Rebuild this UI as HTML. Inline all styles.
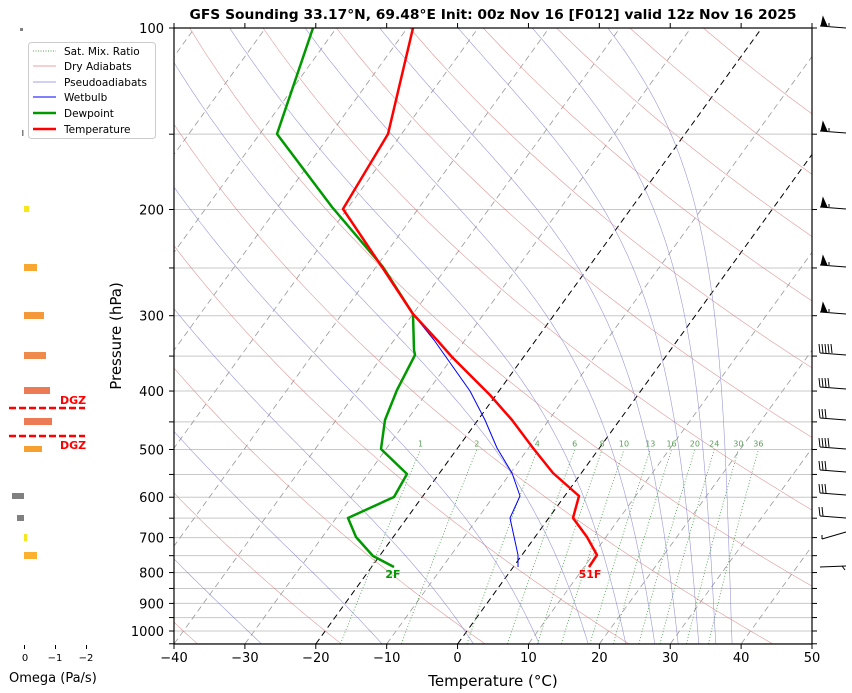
<!DOCTYPE html>
<html><head><meta charset="utf-8">
<style>
html,body{margin:0;padding:0;background:#fff;}
svg{display:block;font-family:"DejaVu Sans","Liberation Sans",sans-serif;}
</style></head>
<body>
<svg id="s" width="852" height="693" viewBox="0 0 852 693" xmlns="http://www.w3.org/2000/svg">
<defs><clipPath id="c"><rect x="174" y="28" width="638" height="616"/></clipPath></defs>
<rect width="852" height="693" fill="#fff"/>
<g id="grid" clip-path="url(#c)"></g>
<g id="bg" clip-path="url(#c)"></g>
<g id="mr" ></g>
<g clip-path="url(#c)" fill="none" stroke-linejoin="round">
<polyline stroke="#0000ff" stroke-width="1" points="413,314 434,340 470,391 485,420 497,448 512,473 520,496 510,518 518,555 518,567"/>
<polyline stroke="#009900" stroke-width="2.5" points="313,28 277,134 332,207 383,267 413,314 414,350 415,355 397,390 385,420 381,449 407,474 394,497 348,518 356,537 373,556 394,567"/>
<polyline stroke="#ff0000" stroke-width="2.5" points="413,28 388,134 343,209 382,267 413,314 437,340 452,357 490,395 512,420 533,448 553,473 579,496 573,518 587,537 597,555 589,567"/>
</g>
<text x="393" y="578" font-size="11" font-weight="bold" fill="#009900" text-anchor="middle">2F</text>
<text x="590" y="578" font-size="11" font-weight="bold" fill="#ff0000" text-anchor="middle">51F</text>
<rect x="174" y="28" width="638" height="616" fill="none" stroke="#000" stroke-width="1.2"/>
<g id="ticks" stroke="#000" stroke-width="1"></g>
<g id="labels" font-size="13" fill="#000"></g>
<text x="493" y="19" font-size="13" font-weight="bold" text-anchor="middle" textLength="607" lengthAdjust="spacingAndGlyphs">GFS Sounding 33.17°N, 69.48°E Init: 00z Nov 16 [F012] valid 12z Nov 16 2025</text>
<text x="493" y="686" font-size="15" text-anchor="middle">Temperature (°C)</text>
<text transform="translate(121,336) rotate(-90)" font-size="15" text-anchor="middle">Pressure (hPa)</text>
<!-- legend -->
<rect x="28.5" y="42.5" width="127" height="96" rx="3" fill="#fff" stroke="#ccc"/>
<g font-size="10.5" fill="#000">
<line x1="33" y1="51" x2="56" y2="51" stroke="#5a9e5a" stroke-dasharray="1,1.5"/><text x="64" y="55">Sat. Mix. Ratio</text>
<line x1="33" y1="66" x2="56" y2="66" stroke="#e8a0a0"/><text x="64" y="70">Dry Adiabats</text>
<line x1="33" y1="82" x2="56" y2="82" stroke="#a0a0e8"/><text x="64" y="86">Pseudoadiabats</text>
<line x1="33" y1="97" x2="56" y2="97" stroke="#0000ff"/><text x="64" y="101">Wetbulb</text>
<line x1="33" y1="113" x2="56" y2="113" stroke="#009900" stroke-width="2.5"/><text x="64" y="117">Dewpoint</text>
<line x1="33" y1="129" x2="56" y2="129" stroke="#ff0000" stroke-width="2.5"/><text x="64" y="133">Temperature</text>
</g>
<!-- omega -->
<g>
<rect x="20" y="28" width="3" height="3" fill="#808080"/>
<rect x="22" y="130" width="1.5" height="6" fill="#808080"/>
<rect x="24" y="206" width="5" height="6" fill="#f5e61e"/>
<rect x="24" y="264" width="13" height="7" fill="#f8a830"/>
<rect x="24" y="312" width="20" height="7" fill="#f5983a"/>
<rect x="24" y="352" width="22" height="7" fill="#f08a4b"/>
<rect x="24" y="387" width="26" height="7" fill="#ec7a55"/>
<rect x="24" y="418" width="28" height="7" fill="#ec7a55"/>
<rect x="24" y="446" width="18" height="6" fill="#f5a030"/>
<rect x="12" y="493" width="12" height="6" fill="#808080"/>
<rect x="17" y="515" width="7" height="6" fill="#808080"/>
<rect x="24" y="534" width="3" height="7" fill="#f5e61e"/>
<rect x="24" y="552" width="13" height="7" fill="#fbb030"/>
<line x1="9" y1="408" x2="85" y2="408" stroke="#ff0000" stroke-width="2.5" stroke-dasharray="7,3"/>
<line x1="9" y1="436" x2="85" y2="436" stroke="#ff0000" stroke-width="2.5" stroke-dasharray="7,3"/>
<text x="60" y="404" font-size="11" font-weight="bold" fill="#ff0000">DGZ</text>
<text x="60" y="449" font-size="11" font-weight="bold" fill="#ff0000">DGZ</text>
<line x1="24.5" y1="645" x2="24.5" y2="649" stroke="#000"/>
<line x1="55.5" y1="645" x2="55.5" y2="649" stroke="#000"/>
<line x1="86.5" y1="645" x2="86.5" y2="649" stroke="#000"/>
<text x="25" y="661" font-size="10" text-anchor="middle">0</text>
<text x="55" y="661" font-size="10" text-anchor="middle">−1</text>
<text x="86" y="661" font-size="10" text-anchor="middle">−2</text>
<text x="9" y="682" font-size="13">Omega (Pa/s)</text>
</g>
<g id="barbs" stroke="#000" stroke-width="1" fill="#000"></g>
</svg>
<script>
(function(){
var NS="http://www.w3.org/2000/svg";
function yP(p){return 28+603*Math.log10(p/100);}
function xT(T,p){return 174+(T+40)*7.089+0.724*(644-yP(p));}
function el(par,tag,at,txt){var e=document.createElementNS(NS,tag);for(var k in at)e.setAttribute(k,at[k]);if(txt!==undefined)e.textContent=txt;document.getElementById(par).appendChild(e);return e;}
function pl(par,pts,st){var s=pts.map(function(a){return a[0].toFixed(1)+","+a[1].toFixed(1);}).join(" ");st.points=s;st.fill="none";el(par,"polyline",st);}
for(var p=100;p<=1050;p+=50){var y=yP(p);el("grid","line",{x1:174,x2:812,y1:y,y2:y,stroke:"#c8c8c8","stroke-width":1});
 el("ticks","line",{x1:812,x2:817,y1:y,y2:y});
 el("ticks","line",{x1:169,x2:174,y1:y,y2:y});
 if(p%100==0 && p<=1000) el("labels","text",{x:164,y:y+5,"text-anchor":"end"},String(p));}
for(var T=-40;T<=50;T+=10){var x=174+(T+40)*7.089;el("ticks","line",{x1:x,x2:x,y1:644,y2:649});
 el("labels","text",{x:x,y:662,"text-anchor":"middle"},(T<0?"−":"")+Math.abs(T));
 el("ticks","line",{x1:x,x2:x,y1:23,y2:28});}
for(var T=-130;T<=50;T+=10){var blk=(T==0||T==-20);
 el("bg","line",{x1:xT(T,1050),y1:yP(1050),x2:xT(T,100),y2:yP(100),stroke:blk?"#000":"#999","stroke-width":blk?1:0.8,"stroke-dasharray":"6,4"});}
for(var t0=-40;t0<=200;t0+=20){var th=t0+273.15,pts=[];
 for(var p=1050;p>=99;p-=10){pts.push([xT(th*Math.pow(p/1000,0.286)-273.15,p),yP(p)]);}
 pl("bg",pts,{stroke:"#d98080","stroke-width":0.6,"stroke-opacity":0.8});}
function es(Tc){return 6.112*Math.exp(17.67*Tc/(Tc+243.5));}
function dT(T,p){var Tc=T-273.15,e=es(Tc),rs=0.622*e/Math.max(p-e,1);var Rd=287,Cp=1005,Lv=2.5e6;
 return (Rd*T+Lv*rs)/(Cp+Lv*Lv*rs*0.622/(Rd*T*T));}
var starts=[-61.7,-44.7,-27.7,-10.7,2.2,11.5,18.4,23.7,27.8,31.1,34.0,36.4,38.7];
starts.forEach(function(t){var T=t+273.15,p=1050,pts=[[xT(t,p),yP(p)]];
 var n=200,dl=Math.log(100/1050)/n;
 for(var i=0;i<n;i++){var lp=Math.log(p);
  var k1=dT(T,p),k2=dT(T+0.5*dl*k1,Math.exp(lp+0.5*dl)),k3=dT(T+0.5*dl*k2,Math.exp(lp+0.5*dl)),k4=dT(T+dl*k3,Math.exp(lp+dl));
  T+=dl*(k1+2*k2+2*k3+k4)/6;p=Math.exp(lp+dl);pts.push([xT(T-273.15,p),yP(p)]);}
 pl("bg",pts,{stroke:"#8080d0","stroke-width":0.6,"stroke-opacity":0.8});});
[1,2,4,6,8,10,13,16,20,24,30,36].forEach(function(w){var ww=w/1000,pts=[];
 for(var p=1050;p>=500;p-=25){var e=ww*p/(0.622+ww),l=Math.log(e/6.112),Td=243.5*l/(17.67-l);pts.push([xT(Td,p),yP(p)]);}
 pl("mr",pts,{stroke:"#4a9a4a","stroke-width":0.8,"stroke-dasharray":"1,2"});
 var top=pts[pts.length-1];el("mr","text",{x:top[0],y:top[1]-3,"font-size":8,fill:"#5a9e5a","text-anchor":"middle"},String(w));});
var by=[26,131,207,265,312,353,387,418,447,470,493,516];
by.forEach(function(y,i){el("barbs","line",{x1:820,y1:y,x2:846,y2:y+2});
 if(i<5){el("barbs","polygon",{points:(821)+","+y+" "+(827)+","+y+" "+(823)+","+(y-9)});el("barbs","line",{x1:829,y1:y,x2:829,y2:y-3});}
 else{var n=[5,4,3,4,3,3,2][i-5]||3;for(var k=0;k<n;k++){var xx=820+k*3;el("barbs","line",{x1:xx,y1:y,x2:xx-1,y2:y-9});}}});
el("barbs","line",{x1:822,y1:539,x2:846,y2:532});el("barbs","line",{x1:822,y1:539,x2:822,y2:535});
el("barbs","line",{x1:820,y1:567,x2:846,y2:566});el("barbs","line",{x1:842,y1:566,x2:845,y2:570});
})();
</script>
</body></html>
